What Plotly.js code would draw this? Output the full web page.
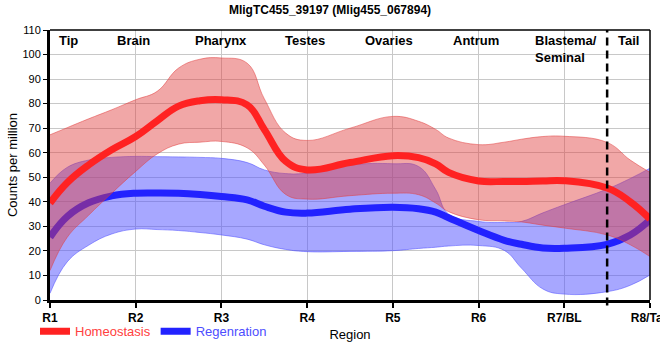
<!DOCTYPE html>
<html>
<head>
<meta charset="utf-8">
<script src="https://cdn.plot.ly/plotly-3.0.1.min.js"></script>
<style>html,body{margin:0;padding:0;background:#fff;}#chart{width:660px;height:360px;}</style>
</head>
<body>
<div id="chart"></div>
<script>
// Tick labels (regions along the worm)
const regionTicks = ['R1','R2','R3','R4','R5','R6','R7/BL','R8/Tail'];
// Anatomical labels and their positions along the region axis
const sectionNames = ['Tip','Brain','Pharynx','Testes','Ovaries','Antrum','Blastema/<br>Seminal','Tail'];
const sectionPos = [0.22, 0.97, 2, 2.97, 3.95, 4.97, 6.02, 6.75];
const boundaryPos = 6.5;

// Sample positions along the region axis (0 = R1 ... 7 = R8)
const xs = [0, 0.2, 0.45, 0.72, 1, 1.25, 1.5, 1.75, 2, 2.3, 2.5, 2.75, 3, 3.5, 4, 4.3, 4.5, 4.65, 5, 5.3, 5.5, 5.75, 6, 6.5, 6.77, 7];

// Homeostasis (counts per million)
const homMean  = [39.5, 47.8, 55.0, 61.2, 66.6, 73.0, 79.0, 81.2, 81.6, 79.5, 69.5, 56.5, 53.0, 56.0, 58.8, 58.0, 55.5, 52.0, 48.5, 48.3, 48.3, 48.5, 48.6, 45.6, 40.0, 33.0];
const homUpper = [67.3, 70.2, 73.8, 77.5, 81.6, 85.0, 94.5, 98.1, 98.6, 96.5, 82.0, 68.0, 65.0, 70.0, 74.8, 72.8, 69.5, 66.0, 63.3, 64.3, 65.5, 66.6, 66.7, 64.2, 57.0, 52.0];
const homLower = [12.0, 25.5, 34.5, 43.5, 52.4, 59.5, 63.5, 64.3, 64.6, 62.0, 55.0, 43.0, 41.1, 42.5, 43.5, 42.9, 39.5, 36.0, 32.7, 32.2, 31.8, 30.5, 29.3, 26.5, 22.5, 17.7];

// Regeneration (counts per million)
const regMean  = [25.6, 34.0, 39.6, 42.4, 43.5, 43.6, 43.5, 43.0, 42.2, 40.8, 38.2, 35.8, 35.4, 37.0, 37.8, 37.2, 35.8, 33.5, 28.3, 24.3, 22.7, 21.2, 21.1, 22.7, 26.5, 32.7];
const regUpper = [47.6, 54.0, 57.0, 58.1, 58.5, 58.4, 58.3, 58.1, 57.7, 56.0, 53.0, 51.5, 51.7, 55.0, 55.5, 54.4, 45.0, 35.0, 32.0, 31.6, 32.0, 35.5, 38.8, 45.2, 49.5, 53.7];
const regLower = [2.7, 15.5, 22.3, 26.9, 28.9, 28.7, 28.3, 27.5, 26.5, 24.8, 22.5, 20.6, 19.7, 19.8, 20.1, 21.0, 21.5, 22.0, 22.2, 20.2, 13.0, 4.5, 2.4, 3.4, 6.0, 10.2];

const seriesNames = ['Homeostasis', 'Regenration'];
const FONT = 'Liberation Sans, Arial, sans-serif';
const SMOOTH = 1.2;

function band(lower, upper, fillColor, edgeColor) {
  return [
    {x: xs, y: lower, type: 'scatter', mode: 'lines', line: {shape: 'spline', smoothing: SMOOTH, width: 1, color: edgeColor}, showlegend: false, hoverinfo: 'skip'},
    {x: xs, y: upper, type: 'scatter', mode: 'lines', fill: 'tonexty', fillcolor: fillColor, line: {shape: 'spline', smoothing: SMOOTH, width: 1, color: edgeColor}, showlegend: false, hoverinfo: 'skip'}
  ];
}

const traces = [].concat(
  band(regLower, regUpper, 'rgba(80,80,255,0.5)', 'rgba(80,80,255,0.55)'),
  [{x: xs, y: regMean, type: 'scatter', mode: 'lines', name: '<span style="color:#4d4dff">' + seriesNames[1] + '</span>', line: {shape: 'spline', smoothing: SMOOTH, width: 7, color: '#2222ff'}, legendrank: 2}],
  band(homLower, homUpper, 'rgba(225,60,60,0.45)', 'rgba(225,60,60,0.5)'),
  [{x: xs, y: homMean, type: 'scatter', mode: 'lines', name: '<span style="color:#ff4040">' + seriesNames[0] + '</span>', line: {shape: 'spline', smoothing: SMOOTH, width: 7, color: '#ff2222'}, legendrank: 1}]
);

const annotations = sectionNames.map((t, i) => ({
  x: sectionPos[i], xref: 'x', y: 1, yref: 'paper', yanchor: 'top', xanchor: 'center', align: 'left',
  text: t, showarrow: false, yshift: -1,
  font: {family: FONT, size: 13, color: '#000', weight: 'bold'}
}));

const layout = {
  width: 660, height: 360,
  margin: {l: 50, r: 10, t: 30, b: 60},
  paper_bgcolor: '#fff', plot_bgcolor: '#fff',
  font: {family: FONT, size: 12, color: '#000'},
  title: {text: '<b>MligTC455_39197 (Mlig455_067894)</b>', x: 0.5, xanchor: 'center', y: 0.972, yanchor: 'middle', font: {family: FONT, size: 12, color: '#000'}},
  xaxis: {
    range: [0, 7], tickvals: regionTicks.map((_, i) => i), ticktext: regionTicks,
    ticklabeloverflow: 'allow',
    showgrid: true, gridcolor: '#c8c8c8', gridwidth: 1, zeroline: false,
    showline: true, linecolor: '#000', linewidth: 3,
    ticks: 'outside', ticklen: 5, tickwidth: 2, tickcolor: '#000',
    tickfont: {family: FONT, size: 12, color: '#000', weight: 'bold'},
    title: {text: 'Region', font: {family: FONT, size: 13, color: '#000'}, standoff: 6}
  },
  yaxis: {
    range: [0, 110], dtick: 10, tick0: 0,
    showgrid: true, gridcolor: '#c8c8c8', gridwidth: 1, zeroline: false,
    showline: true, linecolor: '#000', linewidth: 3,
    ticks: 'outside', ticklen: 4, tickwidth: 1, tickcolor: '#000',
    tickfont: {family: FONT, size: 11, color: '#000'},
    title: {text: 'Counts per million', font: {family: FONT, size: 13, color: '#000'}, standoff: 2}
  },
  legend: {orientation: 'h', x: -0.025, xanchor: 'left', y: -0.06, yanchor: 'top', font: {family: FONT, size: 13}, bgcolor: 'rgba(0,0,0,0)', itemwidth: 30, traceorder: 'normal'},
  shapes: [
    {type: 'line', xref: 'x', yref: 'paper', x0: boundaryPos, x1: boundaryPos, y0: -0.02, y1: 1, line: {color: '#000', width: 2.5, dash: '8px,5px'}},
    {type: 'line', xref: 'paper', yref: 'paper', x0: 0, x1: 1, y0: 1, y1: 1, line: {color: '#000', width: 1.5}},
    {type: 'line', xref: 'paper', yref: 'paper', x0: 1, x1: 1, y0: 0, y1: 1, line: {color: '#000', width: 1.5}}
  ],
  annotations: annotations,
  showlegend: true
};

Plotly.newPlot('chart', traces, layout, {displayModeBar: false, staticPlot: true});
</script>
</body>
</html>
